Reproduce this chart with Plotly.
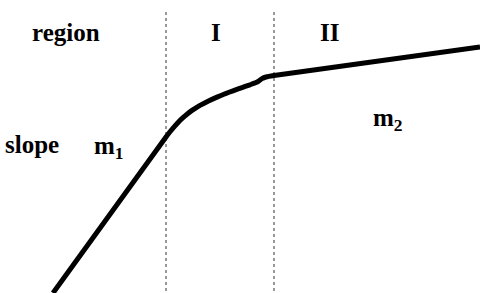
import plotly.graph_objects as go

# Curve (diagram coordinates, y grows downward)
curve_x = [53, 166, 170, 175, 179, 183, 187, 192, 196, 200, 208, 217, 225, 233, 242, 250, 256, 259, 262, 266, 274, 480]
curve_y = [293, 137, 131.8, 125.8, 121.4, 117.6, 114.2, 110.4, 107.8, 105.4, 101.2, 97.1, 93.8, 90.8, 87.6, 84.8, 82.6, 80.8, 78.6, 77.0, 75.5, 47]

# Region boundaries
boundary_x = [166, 274]
boundary_top = 12
boundary_bottom = 293

# Labels
label_text = ["region", "I", "II", "slope", "m<sub>1</sub>", "m<sub>2</sub>"]
label_x = [66, 216, 329, 32, 109, 388]
label_y = [32, 32, 32, 144, 147, 119]

fig = go.Figure()

for bx in boundary_x:
    fig.add_trace(go.Scatter(
        x=[bx, bx], y=[boundary_top, boundary_bottom], mode="lines",
        line=dict(color="#555555", width=1.2, dash="dot"),
        hoverinfo="skip", showlegend=False))

fig.add_trace(go.Scatter(
    x=curve_x, y=curve_y, mode="lines",
    line=dict(color="black", width=5, shape="spline", smoothing=0.4),
    hoverinfo="skip", showlegend=False))

for t, x, y in zip(label_text, label_x, label_y):
    fig.add_annotation(x=x, y=y, text="<b>" + t + "</b>", showarrow=False,
                       xanchor="center", yanchor="middle",
                       font=dict(family="Liberation Serif", size=25, color="black"))

fig.update_layout(
    width=480, height=293, margin=dict(l=0, r=0, t=0, b=0),
    paper_bgcolor="white", plot_bgcolor="white",
    xaxis=dict(range=[0, 480], visible=False, fixedrange=True),
    yaxis=dict(range=[293, 0], visible=False, fixedrange=True),
    showlegend=False)

fig.write_html("out.html")
